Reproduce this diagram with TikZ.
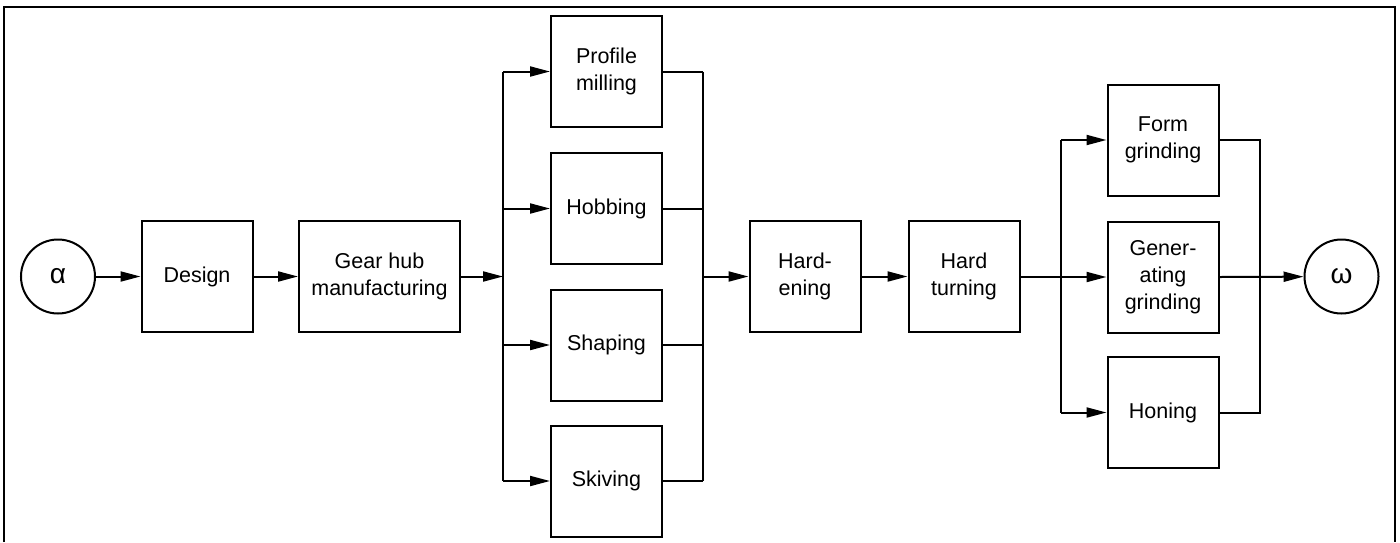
\documentclass[tikz,border=0pt]{standalone}
\usepackage{fontspec}
\setmainfont{Liberation Sans}
\usetikzlibrary{arrows.meta,calc}
\begin{document}
\begin{tikzpicture}[x=1pt,y=-1pt,
  line width=2pt,
  proc/.style={draw,rectangle,minimum width=111pt,minimum height=111pt,inner sep=0pt,align=center,
    font=\fontsize{21.5}{27}\selectfont},
  term/.style={draw,circle,minimum size=74pt,inner sep=0pt,font=\fontsize{28}{30}\selectfont},
  arr/.style={-{Triangle[length=20pt,width=10pt]}}]
\useasboundingbox (0,0) rectangle (1400,542);
\draw (4,542) -- (4,7) -- (1395,7) -- (1395,542);
% nodes
\node[term] (alpha) at (58,276.5) {α};
\node[proc] (design) at (197,276.5) {Design};
\node[proc,minimum width=161pt] (gear) at (379.5,276.5) {Gear hub\\manufacturing};
\node[proc] (prof) at (606.5,71.5) {Profile\\milling};
\node[proc] (hob) at (606.5,208.5) {Hobbing};
\node[proc] (shap) at (606.5,345) {Shaping};
\node[proc] (skiv) at (606.5,481) {Skiving};
\node[proc] (hard) at (805,276.5) {Hard-\\ening};
\node[proc] (turn) at (964,276.5) {Hard\\turning};
\node[proc] (form) at (1163,140) {Form\\grinding};
\node[proc] (gen) at (1163,277) {Gener-\\ating\\grinding};
\node[proc] (hon) at (1163,412.5) {Honing};
\node[term] (omega) at (1341.5,276.5) {ω};
% branch coordinates
\coordinate (b1) at (503,276.5);
\coordinate (c1) at (703,276.5);
\coordinate (b2) at (1061,277);
\coordinate (c2) at (1260,277);
% connectors
\draw[arr] (alpha) -- (design);
\draw[arr] (design) -- (gear);
\draw[arr] (gear) -- (b1);
\draw (b1 |- prof) -- (b1 |- skiv);
\foreach \n in {prof,hob,shap,skiv}{
  \draw[arr] (b1 |- \n) -- (\n.west);
  \draw (\n.east) -- (c1 |- \n);
}
\draw (c1 |- prof) -- (c1 |- skiv);
\draw[arr] (c1) -- (hard);
\draw[arr] (hard) -- (turn);
\draw[arr] (turn.east |- gen) -- (gen.west);
\draw (b2 |- form) -- (b2 |- hon);
\draw[arr] (b2 |- form) -- (form.west);
\draw[arr] (b2 |- hon) -- (hon.west);
\draw (form.east) -- (c2 |- form) -- (c2 |- hon) -- (hon.east);
\draw[arr] (gen.east) -- (omega);
\end{tikzpicture}
\end{document}
